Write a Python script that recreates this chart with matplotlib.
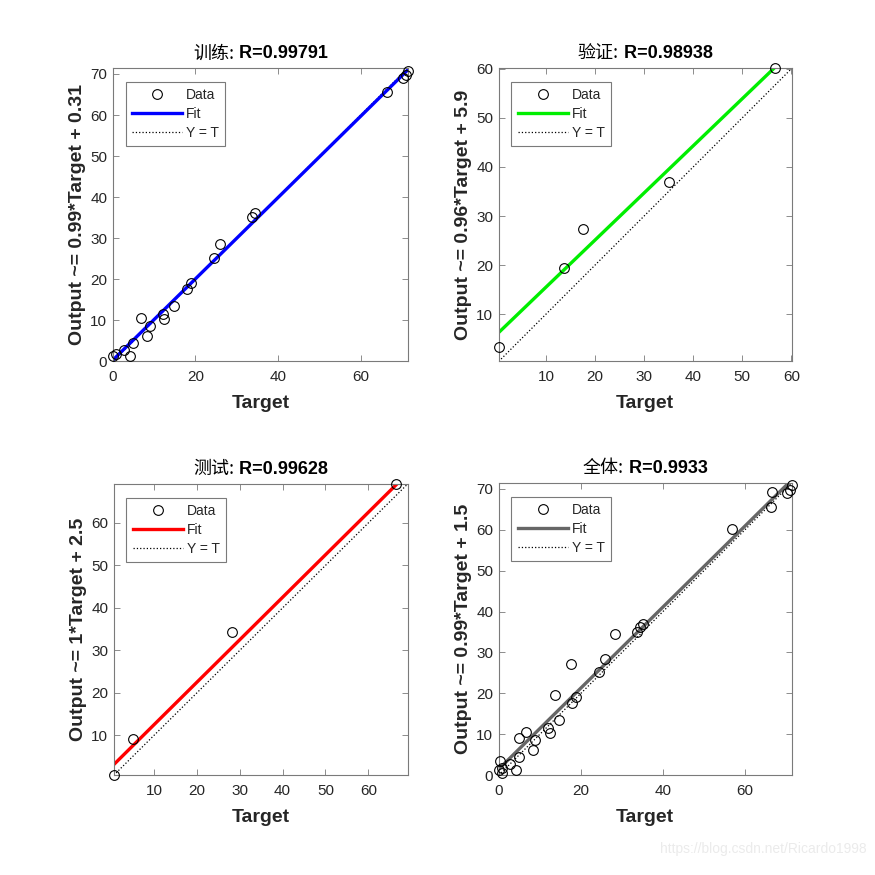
import numpy as np
import matplotlib
matplotlib.use('Agg')
import matplotlib.pyplot as plt
from matplotlib.offsetbox import TextArea, HPacker, AnchoredOffsetbox

plt.rcParams['font.family'] = ['Liberation Sans', 'Noto Sans CJK SC', 'DejaVu Sans']

# values
train_target = [0.0, 0.8, 2.8, 4.2, 4.9, 6.7, 8.3, 8.9, 12.1, 12.5, 14.7,
                17.9, 18.8, 24.5, 26.0, 33.7, 34.5, 66.4, 70.2, 71.0, 71.4]
train_output = [1.2, 1.8, 2.8, 1.3, 4.5, 10.6, 6.2, 8.6, 11.6, 10.4, 13.5,
                17.7, 19.1, 25.3, 28.5, 35.1, 36.1, 65.6, 69.0, 69.7, 70.8]
val_target = [0.4, 13.7, 17.5, 35.1, 56.7]
val_output = [3.4, 19.5, 27.3, 36.9, 60.1]
test_target = [0.7, 5.0, 28.2, 66.5]
test_output = [0.6, 9.1, 34.4, 69.2]

titles = ['训练', '验证', '测试', '全体']
r_values = ['0.99791', '0.98938', '0.99628', '0.9933']
fit_slope = [0.99, 0.96, 1.0, 0.99]
fit_intercept = [0.31, 5.9, 2.5, 1.5]
fit_labels = ['0.99', '0.96', '1', '0.99']
icpt_labels = ['0.31', '5.9', '2.5', '1.5']
fit_colors = ['#0000ff', '#00ee00', '#ff0000', '#666666']
x_ticks = [[0, 20, 40, 60], [10, 20, 30, 40, 50, 60],
           [10, 20, 30, 40, 50, 60], [0, 20, 40, 60]]
y_ticks = [[0, 10, 20, 30, 40, 50, 60, 70], [10, 20, 30, 40, 50, 60],
           [10, 20, 30, 40, 50, 60], [0, 10, 20, 30, 40, 50, 60, 70]]

sets = [
    (train_target, train_output),
    (val_target, val_output),
    (test_target, test_output),
    (train_target + val_target + test_target,
     train_output + val_output + test_output),
]

positions = [
    [0.129, 0.587, 0.337, 0.335],
    [0.570, 0.587, 0.335, 0.335],
    [0.130, 0.114, 0.336, 0.333],
    [0.570, 0.114, 0.335, 0.334],
]

frame_gray = '#7a7a7a'
text_gray = '#262626'

fig = plt.figure(figsize=(8.75, 8.75), dpi=100)

for i in range(4):
    ax = fig.add_axes(positions[i])
    t = np.array(sets[i][0])
    y = np.array(sets[i][1])
    lo = min(t.min(), y.min())
    hi = max(t.max(), y.max())
    lim = np.array([lo, hi])

    ax.plot(t, y, 'o', mfc='none', mec='black', ms=7, mew=0.8, label='Data',
            zorder=3, clip_on=False)
    ax.plot(lim, fit_slope[i] * lim + fit_intercept[i], color=fit_colors[i],
            lw=2.4, label='Fit', zorder=2)
    ax.plot(lim, lim, ':', color='black', lw=0.9, label='Y = T', zorder=1)

    ax.set_xlim(lo, hi)
    ax.set_ylim(lo, hi)
    ax.set_xticks(x_ticks[i])
    ax.set_yticks(y_ticks[i])
    ax.tick_params(direction='in', top=True, right=True, length=4, width=0.6,
                   color=frame_gray, labelcolor=text_gray, labelsize=11)
    ax.tick_params(axis='x', pad=6)
    ax.tick_params(axis='y', pad=4)
    for s in ax.spines.values():
        s.set_color(frame_gray)
        s.set_linewidth(0.8)

    ax.set_xlabel('Target', fontsize=14, fontweight='bold', color=text_gray, labelpad=8)
    ax.set_ylabel('Output ~= ' + fit_labels[i] + '*Target + ' + icpt_labels[i],
                  fontsize=14, fontweight='bold', color=text_gray, labelpad=3)

    leg = ax.legend(loc='upper left', bbox_to_anchor=(0.043, 0.953), fontsize=10,
                    numpoints=1, handlelength=3.6, handletextpad=0.3,
                    borderpad=0.45, labelspacing=0.35, fancybox=False,
                    edgecolor=frame_gray, framealpha=1, borderaxespad=0)
    leg.get_frame().set_linewidth(0.8)
    for txt in leg.get_texts():
        txt.set_color(text_gray)

    # title: chinese part regular, R value bold
    cn = TextArea(titles[i] + ':', textprops=dict(fontsize=13, color='black',
                                                   family=['Noto Sans CJK SC']))
    rv = TextArea(' R=' + r_values[i], textprops=dict(fontsize=13, color='black',
                                                       fontweight='bold'))
    box = HPacker(children=[cn, rv], align='baseline', pad=0, sep=0)
    anchored = AnchoredOffsetbox(loc='lower center', child=box, pad=0, borderpad=0,
                                 frameon=False, bbox_to_anchor=(0.5, 1.02),
                                 bbox_transform=ax.transAxes)
    ax.add_artist(anchored)

fig.text(0.99, 0.022, 'https://blog.csdn.net/Ricardo1998', fontsize=10,
         color='#ebebeb', ha='right', va='bottom')

plt.savefig('out.png', dpi=100)
plt.close()
